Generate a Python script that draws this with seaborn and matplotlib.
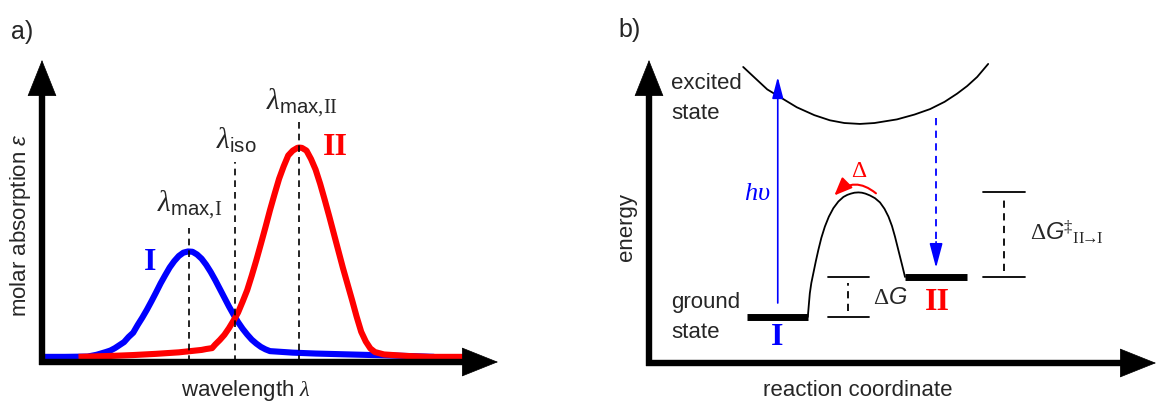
import numpy as np
import matplotlib
matplotlib.use("Agg")
import matplotlib.pyplot as plt
import seaborn as sns

sns.set_style("white")
plt.rcParams['font.family'] = ['Liberation Sans', 'DejaVu Sans']
plt.rcParams['mathtext.fontset'] = 'custom'
plt.rcParams['mathtext.rm'] = 'Liberation Serif'
plt.rcParams['mathtext.it'] = 'Liberation Serif:italic'
plt.rcParams['mathtext.bf'] = 'Liberation Serif:bold'
plt.rcParams['mathtext.sf'] = 'Liberation Sans'
plt.rcParams['mathtext.cal'] = 'Liberation Sans:italic'

# ---- panel a: absorption spectra (wavelength 0-100, absorption 0-1) ----
blue_x = [0, 5, 10, 12, 14, 15, 16, 17, 18, 19, 20, 21, 22, 23, 24, 25, 26, 27, 28,
          29, 30, 31, 32, 33, 34, 35, 36, 37, 38, 39, 40, 41, 42, 43, 44, 45, 46,
          47, 48, 49, 50, 55, 60, 70, 80, 86]
blue_y = [.017, .017, .018, .024, .033, .038, .046, .056, .066, .083, .097, .123,
          .147, .173, .201, .230, .260, .287, .313, .334, .351, .362, .366, .365,
          .356, .342, .322, .298, .271, .242, .213, .184, .157, .132, .110, .091,
          .074, .061, .050, .042, .036, .031, .028, .024, .020, .017]
red_x = [8, 15, 20, 25, 30, 35, 36, 37.3, 38, 39, 40, 41, 42, 43, 44, 45, 46, 47,
         48, 49, 50, 51, 52, 53, 54, 55, 56, 56.4, 57, 58, 59, 60, 61, 62, 63, 64,
         65, 66, 67, 68, 69, 70, 71, 72, 73, 75, 80, 85, 92.3]
red_y = [.017, .020, .023, .027, .032, .040, .043, .046, .058, .073, .090, .112,
         .137, .164, .200, .238, .286, .337, .391, .446, .503, .556, .607, .648,
         .684, .700, .709, .710, .709, .700, .672, .637, .590, .537, .482, .425,
         .368, .311, .258, .205, .150, .100, .068, .045, .033, .025, .020, .017, .017]
marker_x = [32.2, 42.3, 56.4]
marker_top = [0.444, 0.662, 0.801]
marker_labels = [r'$\lambda_{\mathsf{max},\!\mathrm{I}}$', r'$\lambda_{\mathsf{iso}}$',
                 r'$\lambda_{\mathsf{max},\!\mathrm{II}}$']
marker_label_xy = [(32.5, 0.52), (42.6, 0.735), (57.0, 0.86)]

# ---- panel b: energy diagram (reaction coordinate 0-100, energy 0-1) ----
excited_x = [18.8, 21, 23.6, 26, 29.5, 33, 36.1, 39, 42.1, 45, 49.5, 53, 56.1, 59,
             61.5, 63.5, 65.5, 67.7]
excited_y = [.977, .943, .903, .879, .844, .818, .801, .792, .789, .792, .804, .820,
             .838, .862, .889, .914, .944, .987]
barrier_x = [31.7, 31.9, 32.1, 32.4, 32.8, 33.3, 33.8, 34.4, 35.1, 35.9, 36.8, 37.8,
             38.8, 39.6, 40.3, 41.0, 41.8, 42.5, 43.2, 44.1, 45.1, 46.1, 47.0, 47.8,
             48.5, 49.1, 49.6, 50.1, 50.6, 51.1]
barrier_y = [.152, .192, .230, .264, .296, .336, .373, .413, .450, .483, .511, .533,
             .548, .555, .559, .562, .563, .562, .559, .553, .544, .530, .509, .483,
             .452, .417, .384, .351, .318, .284]
level_I = [19.6, 31.7, 0.152]
level_II = [51.1, 63.5, 0.284]
dG_bracket = [35.7, 43.9, 39.7, 0.152, 0.284]
dGts_bracket = [66.7, 75.0, 70.9, 0.284, 0.564]

BLUE = '#0000FF'
RED = '#FF0000'

fig = plt.figure(figsize=(11.57, 4.01), dpi=100)
W, H = 1157, 401


def px_axes(x0, x1, y_top, y_bot):
    ax = fig.add_axes([x0 / W, (H - y_bot) / H, (x1 - x0) / W, (y_bot - y_top) / H])
    ax.set_xlim(0, 100)
    ax.set_ylim(0, 1)
    ax.axis('off')
    return ax


def axis_arrow(ax, start, shaft_end, tip):
    ax.plot([start[0], shaft_end[0]], [start[1], shaft_end[1]], transform=ax.transAxes,
            color='black', lw=4.6, solid_capstyle='butt', clip_on=False)
    ax.annotate('', xy=tip, xytext=shaft_end, xycoords='axes fraction',
                textcoords='axes fraction', annotation_clip=False,
                arrowprops=dict(arrowstyle='-|>,head_length=1.0,head_width=0.4',
                                mutation_scale=25, lw=0.5, color='black',
                                shrinkA=0, shrinkB=0))


# panel a
ax1 = px_axes(42, 498, 60, 362)
sns.lineplot(x=blue_x, y=blue_y, sort=False, estimator=None, color=BLUE, lw=4.4,
             ax=ax1, legend=False)
sns.lineplot(x=red_x, y=red_y, sort=False, estimator=None, color=RED, lw=4.4,
             ax=ax1, legend=False)
for ln in ax1.lines:
    ln.set_solid_capstyle('butt')
    ln.set_solid_joinstyle('round')
for xm, top in zip(marker_x, marker_top):
    ax1.plot([xm, xm], [0, top], color='black', lw=1.2, ls=(0, (4, 3)))
for lab, (tx, ty) in zip(marker_labels, marker_label_xy):
    ax1.text(tx, ty, lab, fontsize=21, ha='center', va='center')
ax1.text(23.7, 0.33, 'I', color=BLUE, fontsize=23, fontweight='bold',
         family='Liberation Serif', ha='center', va='center')
ax1.text(64.3, 0.709, 'II', color=RED, fontsize=23, fontweight='bold',
         family='Liberation Serif', ha='center', va='center')
axis_arrow(ax1, (-0.006, 0), (0.96, 0), (1.0, 0))
axis_arrow(ax1, (0, -0.01), (0, 0.94), (0, 1.0))
ax1.text(44.7, -0.095, r'wavelength $\lambda$', fontsize=16, ha='center', va='center')
ax1.text(-4.8, 0.454, r'molar absorption $\mathcal{\varepsilon}$', fontsize=16,
         rotation=90, ha='center', va='center')
fig.text(22 / W, 1 - 32 / H, 'a)', fontsize=18, ha='center', va='center')

# panel b
ax2 = px_axes(649, 1150, 60, 363)
sns.lineplot(x=excited_x, y=excited_y, sort=False, estimator=None, color='black',
             lw=1.3, ax=ax2, legend=False)
sns.lineplot(x=barrier_x, y=barrier_y, sort=False, estimator=None, color='black',
             lw=1.3, ax=ax2, legend=False)
for lv in (level_I, level_II):
    ax2.plot(lv[:2], [lv[2], lv[2]], color='black', lw=5, solid_capstyle='butt')
for br in (dG_bracket, dGts_bracket):
    for yy in br[3:]:
        ax2.plot(br[:2], [yy, yy], color='black', lw=1.3)
    ax2.plot([br[2], br[2]], [br[3] + 0.02, br[4] - 0.02], color='black', lw=1.3,
             ls=(0, (4, 3)))

# photon up, relaxation down
ax2.annotate('', xy=(25.7, 0.944), xytext=(25.7, 0.198),
             arrowprops=dict(arrowstyle='-|>,head_length=0.65,head_width=0.17',
                             mutation_scale=20, lw=1.2, color=BLUE, shrinkA=0, shrinkB=0))
ax2.plot([57.3, 57.3], [0.809, 0.37], color=BLUE, lw=1.3, ls=(0, (4, 3)))
ax2.annotate('', xy=(57.3, 0.314), xytext=(57.3, 0.40),
             arrowprops=dict(arrowstyle='-|>,head_length=0.75,head_width=0.2',
                             mutation_scale=20, lw=1.2, color=BLUE, shrinkA=0, shrinkB=0))
ax2.text(21.6, 0.561, r'$h\upsilon$', color=BLUE, fontsize=19, ha='center', va='center')

# thermal back reaction
ax2.annotate('', xy=(37.0, 0.553), xytext=(45.3, 0.560),
             arrowprops=dict(arrowstyle='-|>,head_length=0.6,head_width=0.25',
                             mutation_scale=18, lw=1.5, color=RED, shrinkA=0, shrinkB=0,
                             connectionstyle='arc3,rad=0.45'))
ax2.text(41.9, 0.635, r'$\Delta$', color=RED, fontsize=17, ha='center', va='center')

ax2.text(25.5, 0.083, 'I', color=BLUE, fontsize=23, fontweight='bold',
         family='Liberation Serif', ha='center', va='center')
ax2.text(57.5, 0.201, 'II', color=RED, fontsize=23, fontweight='bold',
         family='Liberation Serif', ha='center', va='center')
ax2.text(44.7, 0.215, r'$\Delta\mathcal{G}$', fontsize=17, ha='left', va='center')
ax2.text(76.0, 0.432,
         r'$\Delta\mathcal{G}^{\ddag}{}_{\mathrm{II}\!\!\rightarrow\!\!\mathrm{I}}$',
         fontsize=17, ha='left', va='center', clip_on=False)

ax2.text(4.4, 0.924, 'excited', fontsize=16, ha='left', va='center')
ax2.text(4.4, 0.825, 'state', fontsize=16, ha='left', va='center')
ax2.text(4.4, 0.201, 'ground', fontsize=16, ha='left', va='center')
ax2.text(4.4, 0.102, 'state', fontsize=16, ha='left', va='center')

axis_arrow(ax2, (-0.006, 0), (0.975, 0), (1.012, 0))
axis_arrow(ax2, (0, -0.01), (0, 0.94), (0, 1.0))
ax2.text(41.7, -0.09, 'reaction coordinate', fontsize=16, ha='center', va='center')
ax2.text(-4.4, 0.449, 'energy', fontsize=16, rotation=90, ha='center', va='center')
fig.text(630 / W, 1 - 30 / H, 'b)', fontsize=18, ha='center', va='center')

fig.savefig('out.png', dpi=100)
